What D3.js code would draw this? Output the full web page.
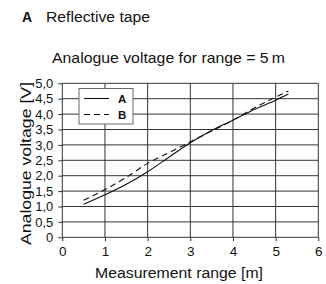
<!DOCTYPE html>
<html lang="en">
<head>
<meta charset="UTF-8">
<title>Analogue voltage</title>
<script src="https://cdn.jsdelivr.net/npm/d3@7"></script>
<style>
  body { margin: 0; background: #fff; }
  svg text { font-family: "Liberation Sans", Arial, sans-serif; fill: #111; }
</style>
</head>
<body>
<svg id="chart" width="326" height="284"></svg>
<script>
// data
let xTicks = [0, 1, 2, 3, 4, 5, 6]
let yTicks = [0, 0.5, 1, 1.5, 2, 2.5, 3, 3.5, 4, 4.5, 5]
let yTickLabels = ["0", "0,5", "1,0", "1,5", "2,0", "2,5", "3,0", "3,5", "4,0", "4,5", "5,0"]
let rangeA = [0.5, 1, 1.5, 2, 2.5, 3, 3.5, 4, 4.5, 5, 5.3]
let voltA = [1.07, 1.38, 1.72, 2.13, 2.6, 3.07, 3.47, 3.8, 4.15, 4.45, 4.65]
let rangeB = [0.5, 1, 1.5, 2, 2.5, 3, 3.5, 4, 4.5, 5, 5.3]
let voltB = [1.2, 1.55, 1.95, 2.4, 2.75, 3.1, 3.45, 3.8, 4.2, 4.55, 4.75]
let seriesNames = ["A", "B"]

let svg = d3.select("#chart")
let pLeft = 62.3, pRight = 318.3, pTop = 83.3, pBottom = 237.3

let x = d3.scaleLinear().domain([0, 6]).range([pLeft, pRight])
let y = d3.scaleLinear().domain([0, 5]).range([pBottom, pTop])

// header
svg.append("text").attr("x", 22).attr("y", 21.5)
  .style("font-size", "14px").style("font-weight", "bold").text("A")
svg.append("text").attr("x", 46).attr("y", 21.5)
  .style("font-size", "14px")
  .attr("textLength", 104).attr("lengthAdjust", "spacingAndGlyphs")
  .text("Reflective tape")

svg.append("text")
  .attr("x", 52).attr("y", 63.3)
  .style("font-size", "15px")
  .attr("textLength", 233).attr("lengthAdjust", "spacingAndGlyphs")
  .text("Analogue voltage for range = 5\u2009m")

// grid
svg.append("g").selectAll("line").data(yTicks).enter().append("line")
  .attr("x1", pLeft).attr("x2", pRight)
  .attr("y1", d => y(d)).attr("y2", d => y(d))
  .attr("stroke", "#333").attr("stroke-width", 1)

svg.append("g").selectAll("line").data(xTicks).enter().append("line")
  .attr("x1", d => x(d)).attr("x2", d => x(d))
  .attr("y1", pTop).attr("y2", pBottom)
  .attr("stroke", "#333").attr("stroke-width", 1)

// axes
let xaxis = d3.axisBottom(x).tickValues(xTicks).tickSize(4).tickPadding(5)
  .tickFormat(d3.format("d"))
let gx = svg.append("g").attr("transform", "translate(0," + pBottom + ")").call(xaxis)
let yaxis = d3.axisLeft(y).tickValues(yTicks).tickSize(4).tickPadding(5)
  .tickFormat((d, i) => yTickLabels[i])
let gy = svg.append("g").attr("transform", "translate(" + pLeft + ",0)").call(yaxis)
gx.select(".domain").remove()
gy.select(".domain").remove()
svg.selectAll(".tick line").attr("stroke", "#333")
gx.selectAll(".tick text").style("font-size", "13.5px")
gy.selectAll(".tick text").style("font-size", "13px")
svg.selectAll(".tick text").attr("fill", "#111")
  .style("font-family", "'Liberation Sans', Arial, sans-serif")

// curves
let line = d3.line().x(d => x(d[0])).y(d => y(d[1])).curve(d3.curveMonotoneX)
svg.append("path")
  .attr("d", line(d3.zip(rangeA, voltA)))
  .attr("fill", "none").attr("stroke", "#111").attr("stroke-width", 1.1)
svg.append("path")
  .attr("d", line(d3.zip(rangeB, voltB)))
  .attr("fill", "none").attr("stroke", "#111").attr("stroke-width", 1.1)
  .attr("stroke-dasharray", "6,4")

// legend
let lg = svg.append("g").attr("transform", "translate(79,88.5)")
lg.append("rect").attr("width", 54).attr("height", 35.5)
  .attr("fill", "#fff").attr("stroke", "#666").attr("stroke-width", 1)
let dashes = [null, "6,4"]
seriesNames.forEach((s, i) => {
  let yy = 10 + i * 16
  lg.append("line").attr("x1", 5).attr("x2", 30).attr("y1", yy).attr("y2", yy)
    .attr("stroke", "#111").attr("stroke-width", 1.1)
    .attr("stroke-dasharray", dashes[i])
  lg.append("text").attr("x", 39).attr("y", yy + 4.2)
    .style("font-size", "11.5px").style("font-weight", "bold").text(s)
})

// axis titles
svg.append("text")
  .attr("x", 179).attr("y", 278)
  .attr("text-anchor", "middle").style("font-size", "15.5px")
  .attr("textLength", 168).attr("lengthAdjust", "spacingAndGlyphs")
  .text("Measurement range [m]")
svg.append("text")
  .attr("transform", "translate(31,163.5) rotate(-90)")
  .attr("text-anchor", "middle").style("font-size", "14.5px")
  .attr("textLength", 163).attr("lengthAdjust", "spacingAndGlyphs")
  .text("Analogue voltage [V]")
</script>
</body>
</html>
